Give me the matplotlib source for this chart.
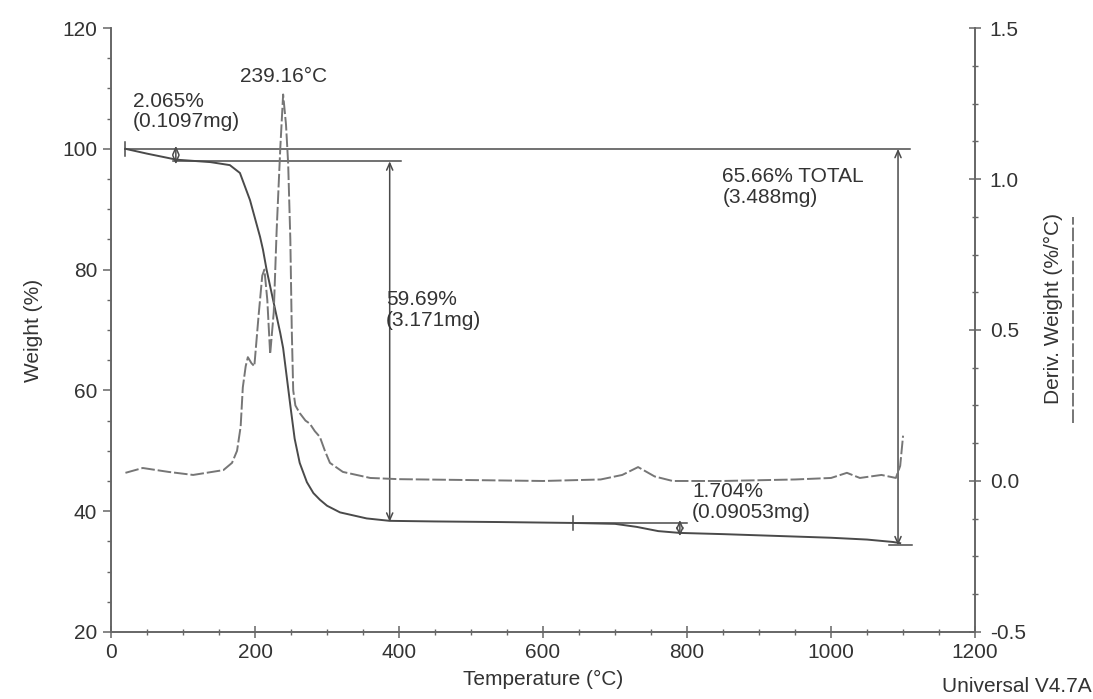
import matplotlib
matplotlib.use("Agg")
import matplotlib.pyplot as plt
from matplotlib.ticker import MultipleLocator, FormatStrFormatter
from matplotlib.lines import Line2D

output = "out.png"
fz = 15
plt.rcParams['font.family'] = ['Liberation Sans', 'DejaVu Sans']
plt.rcParams['axes.unicode_minus'] = False

# weight curve (left axis, %)
temp_weight = [20, 50, 91, 138, 165, 179, 193, 207, 211, 216, 225, 235, 239, 249, 255, 262,
               272, 281, 290, 300, 318, 355, 387, 450, 540, 642, 700, 730, 760, 790, 850,
               950, 1000, 1050, 1086, 1096]
weight_pct = [100.0, 99.2, 98.2, 97.8, 97.3, 96.0, 91.5, 85.4, 83.3, 80.0, 75.0, 69.5, 67.0,
              57.5, 52.0, 48.0, 44.8, 43.0, 41.9, 40.9, 39.8, 38.8, 38.4, 38.3, 38.2, 38.05,
              37.9, 37.4, 36.7, 36.4, 36.2, 35.8, 35.6, 35.3, 34.9, 34.7]

# derivative weight curve (right axis, %/°C)
temp_deriv = [20, 44, 80, 114, 156, 168, 175, 180, 183, 187, 190, 195, 199, 205, 210, 213,
              217, 221, 226, 230, 235, 239, 243, 246, 249, 251, 253, 256, 262, 270, 276,
              283, 290, 297, 304, 322, 360, 400, 500, 600, 680, 710, 732, 755, 780, 850,
              950, 1000, 1022, 1040, 1070, 1090, 1096, 1100]
deriv_weight = [0.027, 0.043, 0.030, 0.020, 0.036, 0.06, 0.10, 0.18, 0.31, 0.38, 0.41, 0.39,
                0.38, 0.55, 0.68, 0.70, 0.60, 0.42, 0.56, 0.83, 1.10, 1.28, 1.18, 1.05, 0.80,
                0.50, 0.30, 0.25, 0.225, 0.20, 0.19, 0.165, 0.146, 0.10, 0.06, 0.03, 0.01,
                0.006, 0.003, 0.0, 0.005, 0.02, 0.046, 0.015, 0.0, 0.0, 0.005, 0.01, 0.027,
                0.01, 0.02, 0.01, 0.05, 0.15]

# step analysis results
start_weight = 100.0
step1_loss = 2.065
step2_loss = 59.69
total_loss = 65.66
step3_start = 38.05
step3_loss = 1.704
peak_temp = 239.16

line_c = '#4a4a4a'
dash_c = '#767676'
text_c = '#333333'

fig = plt.figure(figsize=(10.93, 6.99), dpi=100)
ax = fig.add_axes([0.1016, 0.0959, 0.7905, 0.864])
ax2 = ax.twinx()

ax.plot(temp_weight, weight_pct, '-', color=line_c, lw=1.4)
ax2.plot(temp_deriv, deriv_weight, color=dash_c, lw=1.4, dashes=(7, 1.5))

arrow = dict(arrowstyle='<->,head_length=0.5,head_width=0.22', color=line_c, lw=1.1,
             shrinkA=0, shrinkB=0)

# horizontal reference lines
after1 = start_weight - step1_loss
after2 = after1 - step2_loss
after_total = start_weight - total_loss
ax.plot([20, 1109], [start_weight, start_weight], color=line_c, lw=1.1)
ax.plot([86, 403], [after1, after1], color=line_c, lw=1.1)
ax.plot([20, 20], [start_weight - 1.2, start_weight + 1.2], color=line_c, lw=1.1)

# step 1
ax.annotate('', xy=(90, after1 - 0.5), xytext=(90, start_weight + 0.5), arrowprops=arrow)
ax.text(30, 106.2, "%.3f%%\n(0.1097mg)" % step1_loss, fontsize=fz, color=text_c,
        va='center', ha='left', linespacing=1.1)

# step 2
ax.annotate('', xy=(387, after2), xytext=(387, after1), arrowprops=arrow)
ax.text(382, 73.3, "%.2f%%\n(3.171mg)" % step2_loss, fontsize=fz, color=text_c,
        va='center', ha='left', linespacing=1.1)

# step 3
after3 = step3_start - step3_loss
ax.plot([642, 800], [step3_start, step3_start], color=line_c, lw=1.1)
ax.plot([642, 642], [step3_start - 1.2, step3_start + 1.2], color=line_c, lw=1.1)
ax.annotate('', xy=(790, after3 - 0.5), xytext=(790, step3_start + 0.5), arrowprops=arrow)
ax.text(807, 41.55, "%.3f%%\n(0.09053mg)" % step3_loss, fontsize=fz, color=text_c,
        va='center', ha='left', linespacing=1.1)

# total
ax.annotate('', xy=(1093, after_total), xytext=(1093, start_weight), arrowprops=arrow)
ax.plot([1080, 1112], [after_total, after_total], color=line_c, lw=1.1)
ax.text(849, 93.65, "%.2f%% TOTAL\n(3.488mg)" % total_loss, fontsize=fz, color=text_c,
        va='center', ha='left', linespacing=1.1)

# peak
ax.text(peak_temp, 112.0, "%.2f°C" % peak_temp, fontsize=fz, color=text_c,
        ha='center', va='center')

# axes
ax.set_xlim(0, 1200)
ax.set_ylim(20, 120)
ax2.set_ylim(-0.5, 1.5)
ax.xaxis.set_major_locator(MultipleLocator(200))
ax.xaxis.set_minor_locator(MultipleLocator(50))
ax.yaxis.set_major_locator(MultipleLocator(20))
ax.yaxis.set_minor_locator(MultipleLocator(5))
ax2.yaxis.set_major_locator(MultipleLocator(0.5))
ax2.yaxis.set_minor_locator(MultipleLocator(0.125))
ax2.yaxis.set_major_formatter(FormatStrFormatter('%.1f'))

for a in (ax, ax2):
    a.spines['top'].set_visible(False)
    for s in a.spines.values():
        s.set_color('#666666')
        s.set_linewidth(1.2)

ax.tick_params(axis='x', which='major', direction='inout', length=8, width=1.1,
               colors='#666666', labelcolor=text_c, labelsize=fz, pad=4)
ax.tick_params(axis='x', which='minor', direction='inout', length=5, width=1,
               colors='#666666')
ax.tick_params(axis='y', which='major', direction='out', length=6, width=1.1,
               colors='#666666', labelcolor=text_c, labelsize=fz, pad=4)
ax.tick_params(axis='y', which='minor', direction='out', length=3, width=1,
               colors='#666666')
ax2.tick_params(axis='y', which='major', direction='inout', length=9, width=1.1,
                colors='#666666', labelcolor=text_c, labelsize=fz, pad=6)
ax2.tick_params(axis='y', which='minor', direction='inout', length=5, width=1,
                colors='#666666')

ax.set_xlabel('Temperature (°C)', fontsize=fz, color=text_c, labelpad=6)
ax.set_ylabel('Weight (%)', fontsize=fz, color=text_c, labelpad=14)
ax2.set_ylabel('Deriv. Weight (%/°C)', fontsize=fz, color=text_c)
ax2.yaxis.set_label_coords(1.08, 0.535)

# dashed sample line beside the right label
fig.add_artist(Line2D([0.982, 0.982], [0.395, 0.69], transform=fig.transFigure,
                      color=dash_c, lw=1.4, dashes=(7, 1.5)))

fig.text(0.999, 0.018, 'Universal V4.7A', fontsize=fz, color=text_c, ha='right', va='center')

plt.savefig(output, dpi=100)
plt.close()
